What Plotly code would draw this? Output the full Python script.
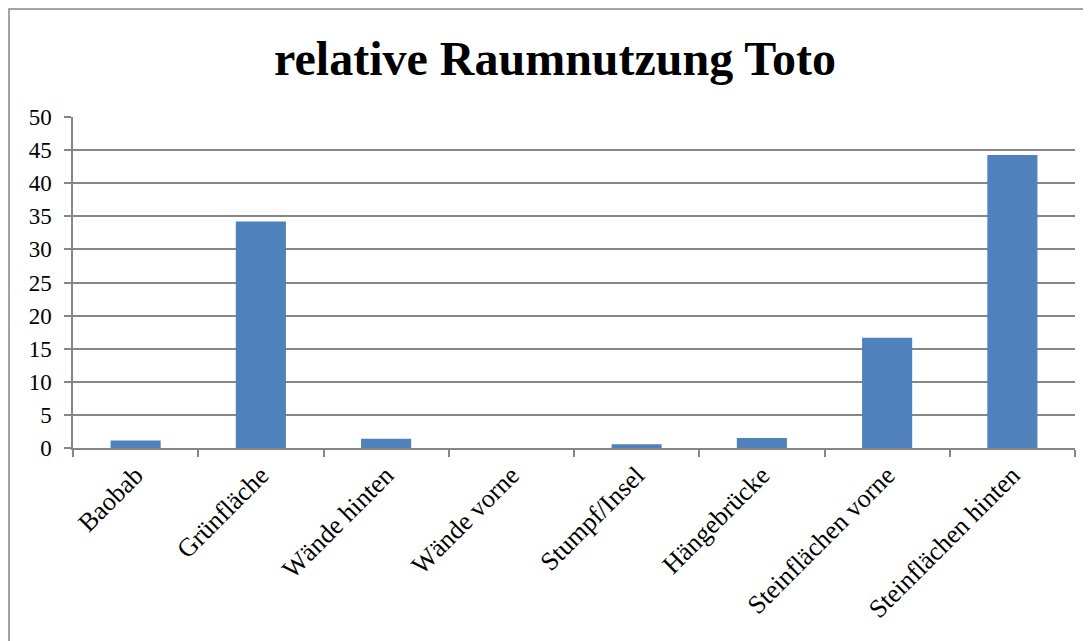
import plotly.graph_objects as go

categories = ["Baobab", "Grünfläche", "Wände hinten", "Wände vorne",
              "Stumpf/Insel", "Hängebrücke", "Steinflächen vorne", "Steinflächen hinten"]
values = [1.15, 34.2, 1.4, 0, 0.55, 1.5, 16.65, 44.25]
y_ticks = [0, 5, 10, 15, 20, 25, 30, 35, 40, 45, 50]

# page is rendered with an 8px body margin, so compensate
OFF = 8
W, H = 1091 - OFF, 641 - OFF
L, T = 73 - OFF, 117 - OFF
pw, ph = 1002, 331
R = W - L - pw
B = H - T - ph

fig = go.Figure()
fig.add_trace(go.Bar(
    x=categories, y=values,
    marker=dict(color="#4F81BD", line=dict(width=0)),
))

grey = "#868686"
fig.update_layout(
    width=W, height=H,
    margin=dict(l=L, r=R, t=T, b=B),
    paper_bgcolor="white", plot_bgcolor="white",
    bargap=0.6,
    showlegend=False,
    title=dict(text="<b>relative Raumnutzung Toto</b>", x=(555 - OFF) / W, xanchor="center",
               y=1 - (58 - OFF) / H, yanchor="middle",
               font=dict(family="Liberation Serif", size=48, color="black")),
    font=dict(family="Liberation Serif", color="black"),
    xaxis=dict(
        type="category", showline=True, linecolor=grey, linewidth=1.5,
        ticks="outside", tickson="boundaries", ticklen=7, tickcolor=grey, tickwidth=1.5,
        tickangle=-45, tickfont=dict(size=26, family="Liberation Serif"),
        showgrid=False,
    ),
    yaxis=dict(
        range=[0, 50], tickvals=y_ticks, showline=True, linecolor=grey, linewidth=1.5,
        ticks="outside", ticklen=7, tickcolor=grey, tickwidth=1.5,
        showgrid=True, gridcolor=grey, gridwidth=1.5, zeroline=False,
        tickfont=dict(size=23, family="Liberation Serif"),
        ticklabelstandoff=8,
    ),
)

# outer chart border
fig.add_shape(type="rect", xref="paper", yref="paper",
              x0=(1 - L) / pw, x1=(1084 - 73) / pw,
              y0=-1.0, y1=(448 - 9) / ph,
              line=dict(color=grey, width=1.5), fillcolor="rgba(0,0,0,0)", layer="above")

fig.write_html("out.html")
